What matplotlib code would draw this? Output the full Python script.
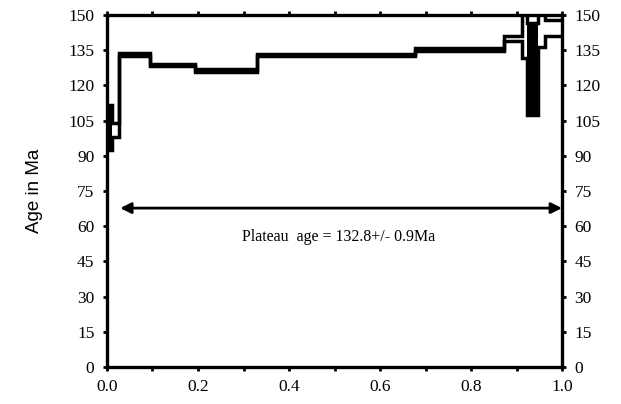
import numpy as np
import matplotlib
matplotlib.use('Agg')
import matplotlib.pyplot as plt

# Step boundaries (cumulative 39Ar fraction) and apparent ages with errors
edges = [0.0, 0.011, 0.026, 0.095, 0.193, 0.33, 0.677, 0.873, 0.912, 0.923, 0.947, 0.963, 1.0]
ages = [102.0, 101.0, 133.2, 128.7, 126.3, 132.9, 135.3, 140.0, 146.0, 127.0, 148.0, 144.5]
errs = [9.5, 3.0, 0.7, 0.55, 0.55, 0.55, 0.55, 1.0, 14.3, 19.6, 11.7, 3.5]

plateau_start, plateau_end = 0.029, 1.0
plateau_label = 'Plateau  age = 132.8+/- 0.9Ma'

ages = np.array(ages)
errs = np.array(errs)
edges = np.array(edges)

fig = plt.figure(figsize=(6.21, 4.04), dpi=100)
ax = fig.add_axes([0.1723, 0.0916, 0.7327, 0.8714])

ax.stairs(ages + errs, edges, baseline=None, color='black', lw=2.5)
ax.stairs(ages - errs, edges, baseline=None, color='black', lw=2.5)

# the first step and the big-error step near the end are drawn solid
for i in [0, 9]:
    ax.bar(edges[i], 2 * errs[i], width=edges[i + 1] - edges[i], bottom=ages[i] - errs[i],
           align='edge', color='black')

# plateau arrow and label
ax.annotate('', xy=(plateau_end, 67.7), xytext=(plateau_start, 67.7),
            arrowprops=dict(arrowstyle='<|-|>', color='black', lw=2,
                            mutation_scale=16, shrinkA=0, shrinkB=0))
ax.text(0.51, 55.4, plateau_label, ha='center', va='center',
        fontsize=11.5, family='Liberation Serif')

ax.set_xlim(0, 1.0)
ax.set_ylim(0, 150)
ax.set_xticks(np.arange(0, 1.01, 0.1), minor=True)
ax.set_xticks(np.arange(0, 1.01, 0.2))
ax.set_xticklabels(['0.0', '0.2', '0.4', '0.6', '0.8', '1.0'])
ax.set_yticks(np.arange(0, 151, 15))
ax.tick_params(which='both', direction='out', length=3, width=2,
               top=True, right=True, labelright=True, labelsize=12.5, pad=6)
for lab in ax.get_xticklabels() + ax.get_yticklabels():
    lab.set_family('Liberation Serif')
for sp in ax.spines.values():
    sp.set_linewidth(2.4)

ax.set_ylabel('Age in Ma', fontsize=13.5, family='Liberation Sans', labelpad=18)

fig.savefig('out.png', dpi=100)
